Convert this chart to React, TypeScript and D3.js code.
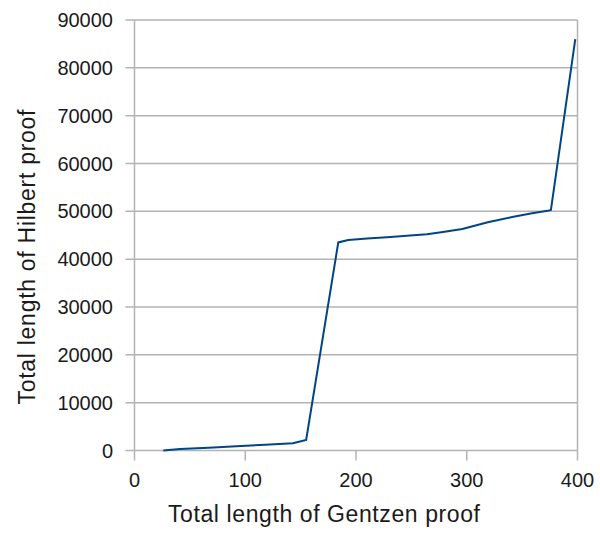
import { useMemo } from "react";
import { line, scaleLinear } from "d3";

const WIDTH = 600;
const HEIGHT = 533;
const M = { left: 134.5, right: 577.5, top: 20, bottom: 450.5 };

const gentzen = [26, 41, 67, 92, 118, 143, 155, 184, 193, 210, 228, 246, 264, 277, 296, 319, 341, 359, 373, 376, 398];
const hilbert = [0, 300, 600, 900, 1200, 1500, 2200, 43500, 44000, 44300, 44600, 44900, 45200, 45650, 46300, 47700, 48800, 49600, 50100, 50300, 86000];
const xTicks = [0, 100, 200, 300, 400];
const yTicks = [0, 10000, 20000, 30000, 40000, 50000, 60000, 70000, 80000, 90000];

const FONT = "'Liberation Sans', Arial, sans-serif";
const GRID = "#b3b3b3";

export default function App() {
  const x = useMemo(() => scaleLinear().domain([0, 400]).range([M.left, M.right]), []);
  const y = useMemo(() => scaleLinear().domain([0, 90000]).range([M.bottom, M.top]), []);
  const path = useMemo(
    () => line<number>().x((d) => x(d)).y((_, i) => y(hilbert[i]))(gentzen),
    [x, y]
  );

  return (
    <svg width={WIDTH} height={HEIGHT} style={{ position: "absolute", left: 0, top: 0, background: "#fff" }} fontFamily={FONT}>
      {yTicks.map((t) => (
        <g key={t}>
          <line x1={M.left - 9} x2={M.right} y1={y(t)} y2={y(t)} stroke={GRID} strokeWidth={1.5} />
          <text x={113} y={y(t)} dy="0.35em" textAnchor="end" fontSize={20} fill="#1a1a1a">{t}</text>
        </g>
      ))}
      {xTicks.map((t) => (
        <g key={t}>
          <line x1={x(t)} x2={x(t)} y1={M.bottom} y2={M.bottom + 10} stroke={GRID} strokeWidth={1.5} />
          <text x={x(t)} y={487} textAnchor="middle" fontSize={20} fill="#1a1a1a">{t}</text>
        </g>
      ))}
      <line x1={M.left} x2={M.left} y1={M.top} y2={M.bottom} stroke={GRID} strokeWidth={1.5} />
      <line x1={M.right} x2={M.right} y1={M.top} y2={M.bottom} stroke={GRID} strokeWidth={1.5} />
      {path ? <path d={path} fill="none" stroke="#004586" strokeWidth={2} /> : null}
      <text x={324} y={522} textAnchor="middle" fontSize={23} textLength={312} lengthAdjust="spacing" fill="#1a1a1a">
        Total length of Gentzen proof
      </text>
      <text transform="translate(35,257) rotate(-90)" textAnchor="middle" fontSize={23} textLength={295} lengthAdjust="spacing" fill="#1a1a1a">
        Total length of Hilbert proof
      </text>
    </svg>
  );
}
